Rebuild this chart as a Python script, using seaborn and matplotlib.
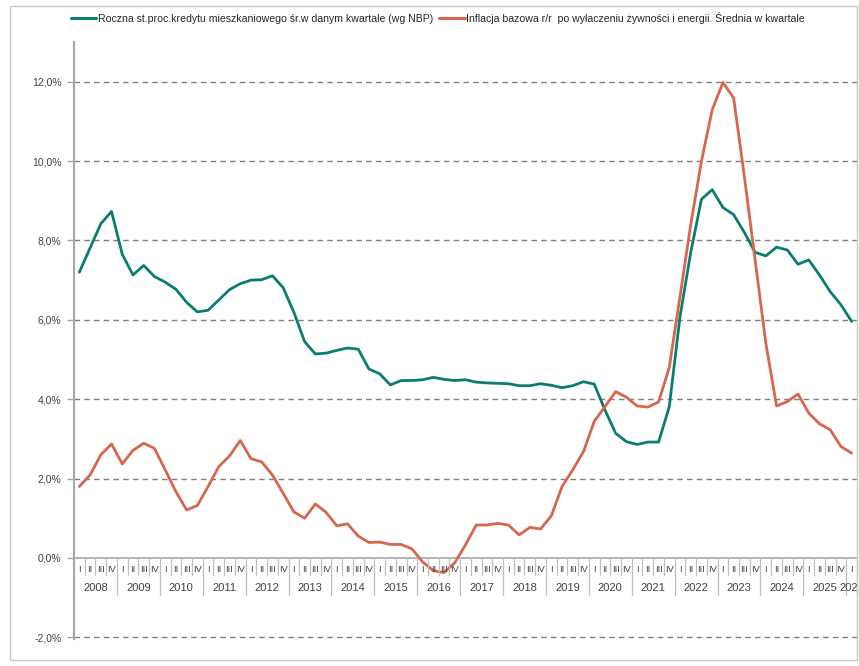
import numpy as np
import pandas as pd
import matplotlib
matplotlib.use("Agg")
import matplotlib.pyplot as plt
import seaborn as sns
from matplotlib.patches import Rectangle
from matplotlib.lines import Line2D

years = list(range(2008, 2027))
quarter_names = ["I", "II", "III", "IV"]

label_rate = "Roczna st.proc.kredytu mieszkaniowego śr.w danym kwartale (wg NBP)"
label_infl = "Inflacja bazowa r/r  po wyłaczeniu żywności i energii. Średnia w kwartale"

rate = [7.20, 7.81, 8.42, 8.73, 7.65, 7.13, 7.37, 7.09, 6.95, 6.77,
        6.44, 6.20, 6.24, 6.50, 6.76, 6.91, 7.00, 7.01, 7.11, 6.81,
        6.19, 5.45, 5.14, 5.16, 5.23, 5.29, 5.26, 4.76, 4.64, 4.36,
        4.47, 4.47, 4.49, 4.55, 4.50, 4.47, 4.49, 4.43, 4.41, 4.40,
        4.39, 4.34, 4.34, 4.39, 4.35, 4.29, 4.34, 4.44, 4.38, 3.73,
        3.14, 2.93, 2.86, 2.92, 2.92, 3.81, 6.08, 7.70, 9.04, 9.28,
        8.83, 8.65, 8.20, 7.70, 7.61, 7.83, 7.76, 7.40, 7.51, 7.13,
        6.71, 6.38, 5.96]

inflation = [1.80, 2.09, 2.60, 2.87, 2.37, 2.71, 2.89, 2.76, 2.22, 1.67,
             1.21, 1.32, 1.80, 2.30, 2.57, 2.96, 2.50, 2.42, 2.09, 1.63,
             1.16, 1.00, 1.36, 1.15, 0.81, 0.86, 0.55, 0.39, 0.40, 0.34,
             0.34, 0.23, -0.10, -0.32, -0.37, -0.12, 0.33, 0.83, 0.83, 0.87,
             0.83, 0.58, 0.77, 0.73, 1.06, 1.80, 2.22, 2.68, 3.44, 3.81,
             4.19, 4.05, 3.83, 3.80, 3.93, 4.80, 6.59, 8.40, 10.00, 11.29,
             11.98, 11.59, 9.61, 7.51, 5.41, 3.83, 3.94, 4.13, 3.65, 3.38,
             3.23, 2.81, 2.64]

n = len(rate)
qlabels = [quarter_names[i % 4] for i in range(n)]
qyears = [years[i // 4] for i in range(n)]

df = pd.DataFrame({
    "idx": list(range(n)) * 2,
    "value": rate + inflation,
    "series": [label_rate] * n + [label_infl] * n,
})

green = "#0B7D70"
red = "#D4674D"
grey_txt = "#404040"
axis_grey = "#A6A6A6"

sns.set_theme(style="white")
plt.rcParams["font.family"] = ["Liberation Sans", "DejaVu Sans"]

fig = plt.figure(figsize=(8.59, 6.66), dpi=100)
ax = fig.add_axes([74 / 859, 1 - 639.3 / 666, (857 - 74) / 859, (639.3 - 42) / 666])

sns.lineplot(data=df, x="idx", y="value", hue="series",
             palette={label_rate: green, label_infl: red},
             linewidth=2.0, ax=ax, legend=False, sort=False)

ax.set_xlim(-0.5, n - 0.5)
ax.set_ylim(-2.05, 13.0)
ax.set_xlabel("")
ax.set_ylabel("")

yt = [-2, 0, 2, 4, 6, 8, 10, 12]
ax.set_yticks(yt)
ax.set_yticklabels([f"{v:.1f}%".replace(".", ",") for v in yt], fontsize=7.5, color=grey_txt)
ax.tick_params(axis="y", length=5, width=1, color=axis_grey, pad=4, left=True)
ax.set_xticks([])

for v in yt:
    if v == 0:
        continue
    ax.axhline(v, color="#7F7F7F", lw=1.0, ls=(0, (4, 3)), zorder=0)
ax.axhline(0, color=axis_grey, lw=1.2, zorder=1)

for s in ["top", "right", "bottom"]:
    ax.spines[s].set_visible(False)
ax.spines["left"].set_color(axis_grey)
ax.spines["left"].set_linewidth(1.5)

# category axis decoration
for i in range(n + 1):
    b = i - 0.5
    if i % 4 == 0 or i == n:
        ax.plot([b, b], [0, -0.93], color="#BFBFBF", lw=0.9, clip_on=False)
    else:
        ax.plot([b, b], [0, -0.43], color="#BFBFBF", lw=0.9, clip_on=False)
for i in range(n):
    ax.text(i, -0.30, qlabels[i], ha="center", va="center", fontsize=6.7,
            color=grey_txt)
for k, y in enumerate(years):
    idxs = [i for i in range(n) if qyears[i] == y]
    c = (idxs[0] + idxs[-1]) / 2 if len(idxs) == 4 else idxs[0]
    ax.text(c, -0.76, str(y), ha="center", va="center", fontsize=8,
            color=grey_txt, clip_on=True)

handles = [Line2D([], [], color=green, lw=2.2), Line2D([], [], color=red, lw=2.2)]
fig.legend(handles, [label_rate, label_infl], loc="center", ncol=2,
           bbox_to_anchor=(438 / 859, 1 - 18 / 666), frameon=False, fontsize=7.6,
           handlelength=2.4, handletextpad=0.15, columnspacing=0.6)

fig.add_artist(Rectangle((10 / 859, 1 - 660 / 666), (857 - 10) / 859, (660 - 6) / 666,
                         transform=fig.transFigure, fill=False,
                         edgecolor="#C8C8C8", lw=1.0))

fig.savefig("out.png", dpi=100)
